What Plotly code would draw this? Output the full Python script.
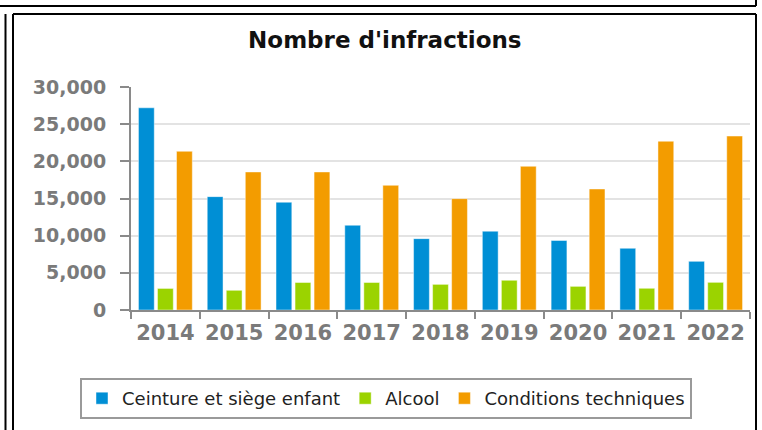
import plotly.graph_objects as go

years = ["2014", "2015", "2016", "2017", "2018", "2019", "2020", "2021", "2022"]
ceinture = [27200, 15250, 14500, 11400, 9600, 10600, 9350, 8300, 6550]
alcool = [2900, 2650, 3700, 3700, 3450, 4000, 3180, 2920, 3720]
conditions = [21350, 18570, 18570, 16770, 14980, 19330, 16280, 22700, 23400]
series_names = ["Ceinture et siège enfant", "Alcool", "Conditions techniques"]
colors = ["#008fd5", "#9bd300", "#f39c00"]
y_ticks = [0, 5000, 10000, 15000, 20000, 25000, 30000]
y_ticktext = ["0", "5,000", "10,000", "15,000", "20,000", "25,000", "30,000"]

W, H = 762, 430
L, R, T, B = 131, 12, 87, 120
PW, PH = W - L - R, H - T - B

def px_x(x):
    return (x - L) / PW

def px_y(y):
    return (H - B - y) / PH

fig = go.Figure()
for name, vals, col in zip(series_names, [ceinture, alcool, conditions], colors):
    fig.add_trace(go.Bar(
        x=years, y=vals, name=name,
        marker=dict(color=col, line=dict(color="rgba(255,255,255,0.45)", width=1)),
    ))

frame = dict(type="line", xref="paper", yref="paper", line=dict(color="black", width=2))
shapes = [
    dict(frame, x0=px_x(0), x1=px_x(756), y0=px_y(6), y1=px_y(6)),
    dict(frame, x0=px_x(756), x1=px_x(756), y0=px_y(0), y1=px_y(6)),
    dict(frame, x0=px_x(5.5), x1=px_x(5.5), y0=px_y(14), y1=px_y(431)),
    dict(frame, x0=px_x(13), x1=px_x(756), y0=px_y(14), y1=px_y(14)),
    dict(frame, x0=px_x(13), x1=px_x(13), y0=px_y(14), y1=px_y(431)),
    dict(frame, x0=px_x(756), x1=px_x(756), y0=px_y(14), y1=px_y(431)),
]

fig.update_layout(
    width=W, height=H,
    margin=dict(l=L, r=R, t=T, b=B, pad=0, autoexpand=False),
    paper_bgcolor="white", plot_bgcolor="white",
    font=dict(family="DejaVu Sans", color="#222"),
    title=dict(text="<b>Nombre d'infractions</b>", x=0.505, xanchor="center",
               y=1 - 40 / H, yanchor="middle", yref="container",
               font=dict(size=23, color="#111", family="DejaVu Sans")),
    barmode="group", bargap=0.17, bargroupgap=0.17,
    showlegend=True,
    legend=dict(orientation="h", x=px_x(386), xanchor="center", y=px_y(378), yanchor="top",
                bordercolor="#9a9a9a", borderwidth=2, bgcolor="white",
                font=dict(size=18, color="#222", family="DejaVu Sans"),
                traceorder="normal"),
    shapes=shapes,
)
fig.update_xaxes(
    type="category", showline=True, linecolor="#8a8a8a", linewidth=2, automargin=False,
    ticks="outside", tickson="boundaries", ticklen=7, tickwidth=2, tickcolor="#8a8a8a",
    tickfont=dict(size=21, color="#7a7a7a", family="DejaVu Sans", weight="bold"),
    ticklabelstandoff=3, showgrid=False,
)
fig.update_yaxes(
    range=[0, 30000], tickvals=y_ticks, ticktext=y_ticktext, automargin=False,
    showline=True, linecolor="#8a8a8a", linewidth=2,
    ticks="outside", ticklen=9, tickwidth=2, tickcolor="#8a8a8a",
    tickfont=dict(size=19, color="#7a7a7a", family="DejaVu Sans", weight="bold"),
    ticklabelstandoff=10,
    showgrid=True, gridcolor="#e3e3e3", gridwidth=2, zeroline=False,
)

fig.write_html("out.html", config={"displayModeBar": False},
               post_script="document.body.style.margin='0';document.body.style.overflow='hidden';")
